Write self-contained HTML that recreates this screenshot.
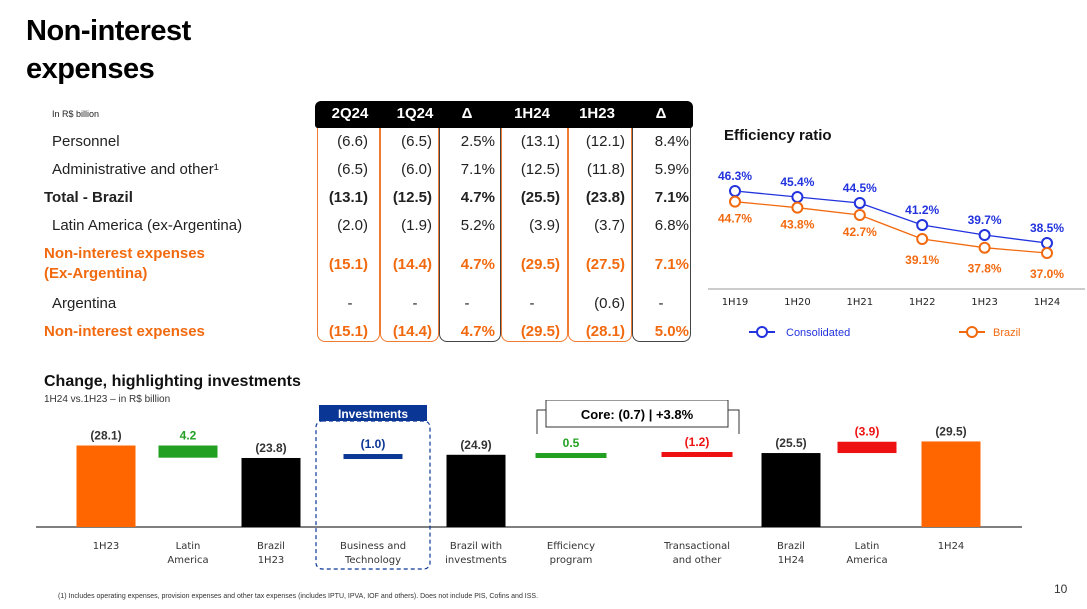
<!DOCTYPE html>
<html><head><meta charset="utf-8">
<style>
body{margin:0;width:1087px;height:609px;background:#fff;font-family:"Liberation Sans",sans-serif;position:relative;overflow:hidden;color:#222}
.abs{position:absolute}
h1{position:absolute;left:26px;top:12px;margin:0;font-size:29px;line-height:38px;font-weight:bold;color:#000;letter-spacing:-0.5px}
.row{position:absolute;left:0;font-size:15px;white-space:nowrap}
.lab{position:absolute;font-size:15px;white-space:nowrap}
.num{position:absolute;font-size:15px;text-align:right;width:60px;white-space:nowrap}
.b{font-weight:bold}
.o{color:#f26a10}
.box{position:absolute;top:118px;height:224px;border:1px solid #f07a30;border-top:none;border-radius:0 0 8px 8px;box-sizing:border-box}
.box.d{border-color:#444}
</style></head><body>
<h1>Non-interest<br>expenses</h1>
<div class="abs" style="left:52px;top:109px;font-size:9px">In R$ billion</div>

<div>
<div class="box" style="left:317px;width:63px"></div>
<div class="box" style="left:380px;width:59px"></div>
<div class="box d" style="left:439px;width:62px"></div>
<div class="box" style="left:501px;width:67px"></div>
<div class="box" style="left:568px;width:64px"></div>
<div class="box d" style="left:632px;width:59px"></div>
<div class="abs" style="left:315px;top:101px;width:378px;height:27px;background:#000;border-radius:6px 6px 3px 3px"></div>
<div id="hdr"></div>
<div id="tbody"></div>
</div>

<div class="abs b" style="left:724px;top:127px;font-size:15px;color:#111">Efficiency ratio</div>
<svg id="eff" class="abs" style="left:700px;top:150px" width="387" height="200"></svg>

<div class="abs b" style="left:44px;top:373px;font-size:16px;color:#111">Change, highlighting investments</div>
<div class="abs" style="left:44px;top:394px;font-size:10px;color:#333">1H24 vs.1H23 – in R$ billion</div>
<svg id="wf" class="abs" style="left:0;top:400px" width="1087" height="180"></svg>

<div class="abs" style="left:58px;top:593px;font-size:7px;color:#333">(1) Includes operating expenses, provision expenses and other tax expenses (includes IPTU, IPVA, IOF and others). Does not include PIS, Cofins and ISS.</div>
<div class="abs" style="left:1054px;top:582px;font-size:12px;color:#333">10</div>

<script>
// ---- Table ----
const headers=["2Q24","1Q24","Δ","1H24","1H23","Δ"];
const hdrCenters=[350,415,467,532,597,661];
const rowLabels=["Personnel","Administrative and other¹","Total - Brazil","Latin America (ex-Argentina)","Non-interest expenses<br>(Ex-Argentina)","Argentina","Non-interest expenses"];
const rowVals=[
["(6.6)","(6.5)","2.5%","(13.1)","(12.1)","8.4%"],
["(6.5)","(6.0)","7.1%","(12.5)","(11.8)","5.9%"],
["(13.1)","(12.5)","4.7%","(25.5)","(23.8)","7.1%"],
["(2.0)","(1.9)","5.2%","(3.9)","(3.7)","6.8%"],
["(15.1)","(14.4)","4.7%","(29.5)","(27.5)","7.1%"],
["-","-","-","-","(0.6)","-"],
["(15.1)","(14.4)","4.7%","(29.5)","(28.1)","5.0%"]];
const rowStyle=["","","b","","b o","","b o"];
const rowIndent=[52,52,44,52,44,52,44];
const rowY=[132,160,188,216,255,294,322];
const numRight=[368,432,495,560,625,689];
const hdr=document.getElementById('hdr');
headers.forEach((h,i)=>{const d=document.createElement('div');
d.className='abs b';d.style.cssText=`left:${hdrCenters[i]-30}px;top:105px;width:60px;text-align:center;color:#fff;font-size:15px`;d.textContent=h;

hdr.appendChild(d);});
const tb=document.getElementById('tbody');
rowLabels.forEach((l,r)=>{
const d=document.createElement('div');d.className='lab '+rowStyle[r];
d.style.left=rowIndent[r]+'px';d.style.top=(r==4?rowY[r]-11:rowY[r])+'px';d.style.lineHeight='20px';d.innerHTML=l;

tb.appendChild(d);
rowVals[r].forEach((v,c)=>{const n=document.createElement('div');n.className='num '+rowStyle[r];
n.style.left=(numRight[c]-60)+'px';n.style.top=rowY[r]+'px';n.style.lineHeight='20px';
if(v==='-'){n.style.textAlign='center';n.style.left=(hdrCenters[c]-30)+'px';}
n.textContent=v;

tb.appendChild(n);});
});

// ---- Efficiency chart ----
const effCats=["1H19","1H20","1H21","1H22","1H23","1H24"];
const consolidated=[46.3,45.4,44.5,41.2,39.7,38.5];
const brazil=[44.7,43.8,42.7,39.1,37.8,37.0];
const NS='http://www.w3.org/2000/svg';
const eff=document.getElementById('eff');
const ex=i=>35+i*62.4;
const ey=v=>41+(46.3-v)*6.67;
function el(svg,tag,attrs,name,text){const e=document.createElementNS(NS,tag);for(const k in attrs)e.setAttribute(k,attrs[k]);


if(text!==undefined)e.textContent=text;svg.appendChild(e);return e;}
el(eff,'line',{x1:8,x2:385,y1:139,y2:139,stroke:'#999','stroke-width':1},'x-axis');
effCats.forEach((c,i)=>el(eff,'text',{x:ex(i),y:155,'text-anchor':'middle','font-size':10,fill:'#222','font-family':'DejaVu Sans, sans-serif'},'x-tick-label',c));
function series(vals,col,name,above){
el(eff,'polyline',{points:vals.map((v,i)=>ex(i)+','+ey(v)).join(' '),fill:'none',stroke:col,'stroke-width':1.3},name+'-line');
vals.forEach((v,i)=>{el(eff,'circle',{cx:ex(i),cy:ey(v),r:5,fill:'#fff',stroke:col,'stroke-width':2},name+'-point');
el(eff,'text',{x:ex(i),y:above?ey(v)-11:ey(v)+(i>=3?25:21),'text-anchor':'middle','font-size':12,'font-weight':'bold',fill:col},name+'-value',v.toFixed(1)+'%');});}
series(consolidated,'#2233dd','consolidated',true);
series(brazil,'#f26a10','brazil',false);
el(eff,'line',{x1:49,x2:75,y1:182,y2:182,stroke:'#2233dd','stroke-width':2},'legend-consolidated-line');
el(eff,'circle',{cx:62,cy:182,r:5,fill:'#fff',stroke:'#2233dd','stroke-width':2},'legend-consolidated-marker');
el(eff,'text',{x:86,y:186,'font-size':11,fill:'#2233dd'},'legend-consolidated','Consolidated');
el(eff,'line',{x1:259,x2:285,y1:182,y2:182,stroke:'#f26a10','stroke-width':2},'legend-brazil-line');
el(eff,'circle',{cx:272,cy:182,r:5,fill:'#fff',stroke:'#f26a10','stroke-width':2},'legend-brazil-marker');
el(eff,'text',{x:293,y:186,'font-size':11,fill:'#f26a10'},'legend-brazil','Brazil');

// ---- Waterfall ----
const wfCats=["1H23","Latin|America","Brazil|1H23","Business and|Technology","Brazil with|investments","Efficiency|program","Transactional|and other","Brazil|1H24","Latin|America","1H24"];
const wfValues=[28.1,4.2,23.8,1.0,24.9,0.5,1.2,25.5,3.9,29.5];
const wfTypes=["total","down","total","up","total","down","up","total","up","total"];
const wfLabels=["(28.1)","4.2","(23.8)","(1.0)","(24.9)","0.5","(1.2)","(25.5)","(3.9)","(29.5)"];
const wfColors=["#ff6600","#22a022","#000","#0a3696","#000","#22a022","#ee1111","#000","#ee1111","#ff6600"];
const wfLabelColors=["#333","#22a022","#333","#0a3696","#333","#22a022","#ee1111","#333","#ee1111","#333"];
const wfCenters=[106,188,271,373,476,571,697,791,867,951];
const wfWidths=[59,59,59,59,59,71,71,59,59,59];
const wf=document.getElementById('wf');
const base=127;const wy=v=>base-v*2.9;
el(wf,'line',{x1:36,x2:1022,y1:base,y2:base,stroke:'#555','stroke-width':1.5},'waterfall-baseline');
el(wf,'rect',{x:316,y:21,width:114,height:148,rx:6,fill:'none',stroke:'#0a3696','stroke-width':1.2,'stroke-dasharray':'4,3'},'investments-box');
el(wf,'rect',{x:319,y:5,width:108,height:16,fill:'#0a3696'},'investments-banner');
el(wf,'text',{x:373,y:18,'text-anchor':'middle','font-size':12,'font-weight':'bold',fill:'#fff'},'investments-label','Investments');
el(wf,'polyline',{points:'537,34 537,10 739,10 739,34',fill:'none',stroke:'#333','stroke-width':1},'core-bracket');
el(wf,'rect',{x:546,y:0,width:182,height:27,fill:'#fff',stroke:'#333','stroke-width':1},'core-box');
el(wf,'text',{x:637,y:19,'text-anchor':'middle','font-size':13,'font-weight':'bold',fill:'#000'},'core-label','Core: (0.7) | +3.8%');
let run=0;
wfValues.forEach((v,i)=>{let top,bot;
if(wfTypes[i]==='total'){top=wy(v);bot=base;run=v;}
else if(wfTypes[i]==='down'){top=wy(run);bot=wy(run-v);run-=v;}
else{bot=wy(run);top=wy(run+v);run+=v;}
if(bot-top<5){const m=(top+bot)/2;top=m-2.5;bot=m+2.5;}
const x=wfCenters[i]-wfWidths[i]/2;
el(wf,'rect',{x:x,y:top,width:wfWidths[i],height:bot-top,fill:wfColors[i]},'bar-'+i);
el(wf,'text',{x:wfCenters[i],y:top-6,'text-anchor':'middle','font-size':12,'font-weight':'bold',fill:wfLabelColors[i]},'bar-value',wfLabels[i]);
wfCats[i].split('|').forEach((p,k)=>el(wf,'text',{x:wfCenters[i],y:149+k*14,'text-anchor':'middle','font-size':10,fill:'#333','font-family':'DejaVu Sans, sans-serif'},'category-label',p));
});
</script>
</body></html>
